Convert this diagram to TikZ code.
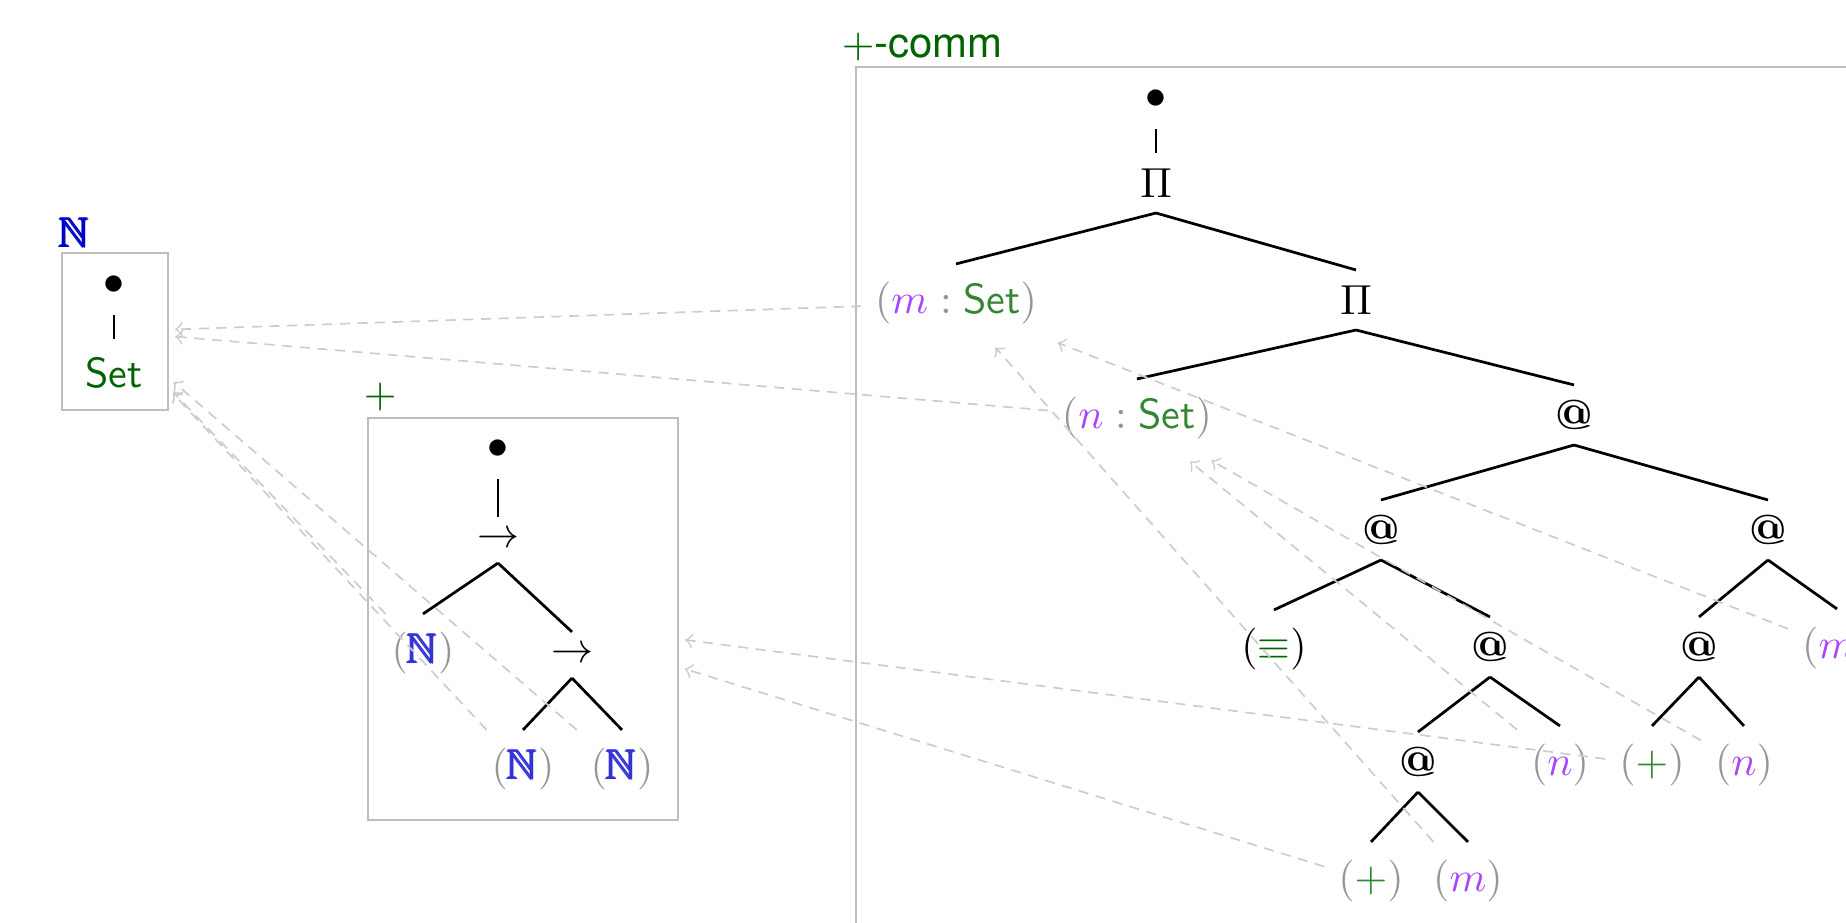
\documentclass[tikz,border=0pt]{standalone}
\usepackage{amsmath}
\usepackage{amssymb}
\usepackage{fontspec}
\newfontfamily\labfont{TeX Gyre Heros}
\usetikzlibrary{arrows}
\definecolor{boxgray}{RGB}{190,190,190}
\definecolor{refgray}{RGB}{204,204,204}
\definecolor{pgray}{RGB}{150,150,150}
\definecolor{dgreen}{RGB}{0,100,0}
\definecolor{rgreen}{RGB}{51,135,51}
\definecolor{dblue}{RGB}{0,0,204}
\definecolor{rblue}{RGB}{51,51,214}
\definecolor{vpurple}{RGB}{170,68,255}
\newcommand{\gparen}[1]{\textcolor{pgray}{(}#1\textcolor{pgray}{)}}
\newcommand{\vm}{\textcolor{vpurple}{m}}
\newcommand{\vn}{\textcolor{vpurple}{n}}
\newcommand{\gcolon}{\mathrel{\textcolor{pgray}{:}}}
\newcommand{\rset}{\textcolor{rgreen}{\textsf{Set}}}
\newcommand{\appsym}{\textbf{@}}
\newcommand{\natN}{\pmb{\mathbb{N}}}
\begin{document}
\begin{tikzpicture}[x=0.2381pt,y=-0.2381pt,
  tn/.style={inner xsep=0.3333em, inner ysep=0pt, outer sep=0pt, anchor=center},
  opn/.style={tn, minimum height=14.3pt},
  arrn/.style={tn, minimum height=11pt},
  leaf/.style={tn, minimum height=18.6pt},
  setleaf/.style={tn, minimum height=16.2pt},
  edge/.style={line width=0.65pt, black},
  refline/.style={draw=refgray, line width=0.4pt, dash pattern=on 2.4pt off 1.8pt, ->, shorten >=1.7pt},
  frame/.style={draw=boxgray, line width=0.45pt, inner sep=0pt, outer sep=0pt},
  lab/.style={anchor=base west, inner sep=0pt}]
\path[use as bounding box] (0,0) rectangle (1846,923);
\clip (0,0) rectangle (1846,923);

% frames
\node[frame, minimum width=25.24pt, minimum height=37.38pt] (Nbox) at (115,331.5) {};
\node[frame, minimum width=73.81pt, minimum height=95.72pt] (Pbox) at (523,619) {};
\node[frame, minimum width=285.7pt, minimum height=238.1pt] (Cbox) at (1456,567) {};

% labels
\node[lab, text=dblue] (Nlab) at (59,248) {$\natN$};
\node[lab, text=dgreen] (Plab) at (363,408) {$+$};
\node[lab, text=dgreen] (Clab) at (841,58) {$+${\labfont -comm}};

% N tree
\node[opn] (nb) at (114,285) {$\bullet$};
\node[setleaf, text=dgreen] (nset) at (114,373) {\textsf{Set}};
\draw[edge] (nb.south) -- (nset.north);

% + tree
\node[opn] (pb) at (498,449) {$\bullet$};
\node[arrn] (pa1) at (498,540) {$\rightarrow$};
\node[leaf] (pN1) at (423,653) {$\gparen{\textcolor{rblue}{\natN}}$};
\node[arrn] (pa2) at (572,655) {$\rightarrow$};
\node[leaf] (pN2) at (523,769) {$\gparen{\textcolor{rblue}{\natN}}$};
\node[leaf] (pN3) at (622,769) {$\gparen{\textcolor{rblue}{\natN}}$};
\draw[edge] (pb.south) -- (pa1.north);
\draw[edge] (pa1.south) -- (pN1.north);
\draw[edge] (pa1.south) -- (pa2.north);
\draw[edge] (pa2.south) -- (pN2.north);
\draw[edge] (pa2.south) -- (pN3.north);

% +-comm tree
\node[opn] (cb) at (1156,99) {$\bullet$};
\node[opn] (cP1) at (1156,183) {$\Pi$};
\node[leaf] (cmS) at (956,303) {$\gparen{\vm\gcolon\rset}$};
\node[opn] (cP2) at (1356,300) {$\Pi$};
\node[leaf] (cnS) at (1137,418) {$\gparen{\vn\gcolon\rset}$};
\node[opn] (cA1) at (1574,415) {\appsym};
\node[opn] (cA2) at (1381,530) {\appsym};
\node[opn] (cA3) at (1768,530) {\appsym};
\node[leaf] (cEq) at (1274,649) {$(\textcolor{dgreen}{\equiv})$};
\node[opn] (cA4) at (1490,647) {\appsym};
\node[opn] (cA5) at (1699,647) {\appsym};
\node[leaf] (cM1) at (1837,648) {$\gparen{\vm}$};
\node[opn] (cA6) at (1418,762) {\appsym};
\node[leaf] (cN1) at (1560,765) {$\gparen{\vn}$};
\node[leaf] (cPl1) at (1652,765) {$\gparen{\textcolor{rgreen}{+}}$};
\node[leaf] (cN2) at (1744,765) {$\gparen{\vn}$};
\node[leaf] (cPl2) at (1371,881) {$\gparen{\textcolor{rgreen}{+}}$};
\node[leaf] (cM2) at (1468,881) {$\gparen{\vm}$};
\draw[edge] (cb.south) -- (cP1.north);
\draw[edge] (cP1.south) -- (cmS.north);
\draw[edge] (cP1.south) -- (cP2.north);
\draw[edge] (cP2.south) -- (cnS.north);
\draw[edge] (cP2.south) -- (cA1.north);
\draw[edge] (cA1.south) -- (cA2.north);
\draw[edge] (cA1.south) -- (cA3.north);
\draw[edge] (cA2.south) -- (cEq.north);
\draw[edge] (cA2.south) -- (cA4.north);
\draw[edge] (cA4.south) -- (cA6.north);
\draw[edge] (cA4.south) -- (cN1.north);
\draw[edge] (cA6.south) -- (cPl2.north);
\draw[edge] (cA6.south) -- (cM2.north);
\draw[edge] (cA3.south) -- (cA5.north);
\draw[edge] (cA3.south) -- (cM1.north);
\draw[edge] (cA5.south) -- (cPl1.north);
\draw[edge] (cA5.south) -- (cN2.north);

% reference arrows
\draw[refline] (cmS) -- (Nbox);
\draw[refline] (cnS) -- (Nbox);
\draw[refline] (pN1) -- (Nbox);
\draw[refline] (pN2) -- (Nbox);
\draw[refline] (pN3) -- (Nbox);
\draw[refline] (cPl1) -- (Pbox);
\draw[refline] (cPl2) -- (Pbox);
\draw[refline] (cM2) -- (cmS);
\draw[refline] (cM1) -- (cmS);
\draw[refline] (cN1) -- (cnS);
\draw[refline] (cN2) -- (cnS);
\end{tikzpicture}
\end{document}
